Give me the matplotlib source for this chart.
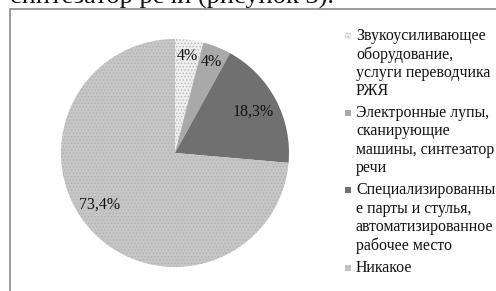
import matplotlib.pyplot as plt
from matplotlib.patches import Rectangle
import numpy as np

plt.rcParams['font.family'] = ['Liberation Serif', 'DejaVu Serif']
plt.rcParams['hatch.linewidth'] = 0.6

# data
shares = [4.0, 4.0, 18.3, 73.4]
pct_labels = ['4%', '4%', '18,3%', '73,4%']
legend_labels = [
    'Звукоусиливающее\nоборудование,\nуслуги переводчика\nРЖЯ',
    'Электронные лупы,\nсканирующие\nмашины, синтезатор\nречи',
    'Специализированны\nе парты и стулья,\nавтоматизированное\nрабочее место',
    'Никакое',
]
colors = ['#eeeeee', '#a9a9a9', '#707070', '#c6c6c6']
hatches = ['.....', None, None, '.....']
hatch_colors = ['#b8b8b8', '#a9a9a9', '#707070', '#b0b0b0']

fig = plt.figure(figsize=(4.96, 2.91), dpi=100)

# frame of the figure box and the cut caption above it
fig.patches.append(Rectangle((10 / 496, -0.2), 1.2, 1 - 9 / 291 + 0.2,
                             transform=fig.transFigure, fill=False,
                             edgecolor='#8a8a8a', lw=1.2, clip_on=False))
fig.text(10 / 496, 1 - 4 / 291, 'синтезатор речи (рисунок 3).',
         fontsize=19, va='baseline', ha='left', color='#111111')

# pie axes: centre (175, 153) px, radius 114 px
cx, cy, r = 175, 153, 114
ax = fig.add_axes([(cx - r) / 496, (291 - cy - r) / 291, 2 * r / 496, 2 * r / 291])
wedges, _ = ax.pie(shares, colors=colors, startangle=90, counterclock=False,
                   wedgeprops=dict(linewidth=0))
for w, h, hc in zip(wedges, hatches, hatch_colors):
    if h:
        w.set_hatch(h)
        w.set_edgecolor(hc)
ax.set_xlim(-1, 1)
ax.set_ylim(-1, 1)
ax.set_aspect('auto')
ax.axis('off')

# percentage labels
label_r = [0.86, 0.86, 0.78, 0.80]
label_theta = [None, None, None, 214.7]
for w, txt, lr, lt in zip(wedges, pct_labels, label_r, label_theta):
    th = lt if lt is not None else (w.theta1 + w.theta2) / 2
    ax.text(lr * np.cos(np.radians(th)), lr * np.sin(np.radians(th)), txt,
            ha='center', va='center', fontsize=11.5, color='#111111')

# legend drawn by hand so the marker sits on the first line
y = 36
for lab, c, h, hc in zip(legend_labels, colors, hatches, hatch_colors):
    sq = Rectangle((345 / 496, 1 - (y + 3) / 291), 6 / 496, 6 / 291,
                   transform=fig.transFigure, facecolor=c, lw=0)
    if h:
        sq.set_hatch(h)
        sq.set_edgecolor(hc)
    fig.patches.append(sq)
    for line in lab.split('\n'):
        fig.text(356 / 496, 1 - y / 291, line, fontsize=11.4, va='center',
                 ha='left', color='#111111')
        y += 18.3
    y += 4

fig.savefig('out.png', dpi=100)
